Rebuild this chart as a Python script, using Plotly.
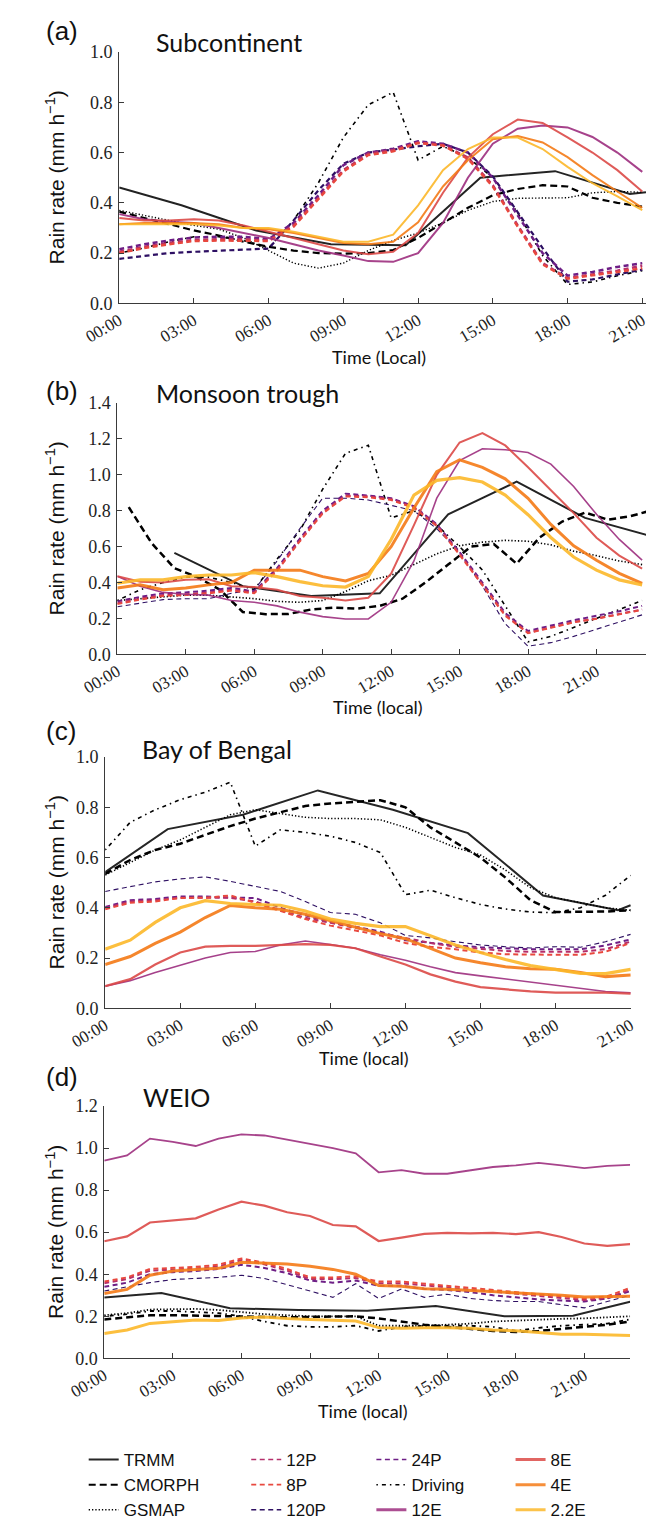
import plotly.graph_objects as go

W, H = 652, 1528

# ---------------- data ----------------
hours_a = list(range(22))
hours_b = list(range(24))
hours_c = list(range(22))
hours_d = list(range(24))
tick_hours = [0, 3, 6, 9, 12, 15, 18, 21]
tick_labels = ["00:00", "03:00", "06:00", "09:00", "12:00", "15:00", "18:00", "21:00"]

# (a) Subcontinent
a_trmm_x = [0, 2.5, 5.5, 8.5, 11.5, 14.5, 17.5, 20.5, 21.15]
a_trmm = [0.461, 0.39, 0.29, 0.235, 0.231, 0.50, 0.526, 0.435, 0.442]
a_cmorph = [0.365, 0.34, 0.315, 0.29, 0.27, 0.245, 0.225, 0.21, 0.2, 0.198, 0.2, 0.212,
            0.26, 0.32, 0.38, 0.43, 0.455, 0.47, 0.465, 0.42, 0.4, 0.385]
a_gsmap = [0.37, 0.35, 0.33, 0.31, 0.295, 0.26, 0.21, 0.16, 0.14, 0.16, 0.21, 0.25,
           0.28, 0.32, 0.37, 0.405, 0.418, 0.418, 0.42, 0.44, 0.445, 0.442]
a_driving = [0.2, 0.22, 0.245, 0.265, 0.265, 0.25, 0.22, 0.33, 0.48, 0.66, 0.79, 0.84,
             0.57, 0.625, 0.58, 0.5, 0.36, 0.19, 0.075, 0.085, 0.11, 0.13]
a_12p = [0.205, 0.225, 0.24, 0.252, 0.255, 0.255, 0.25, 0.31, 0.42, 0.53, 0.595, 0.61,
         0.64, 0.63, 0.58, 0.47, 0.31, 0.16, 0.1, 0.115, 0.13, 0.15]
a_8p = [0.2, 0.22, 0.235, 0.248, 0.25, 0.25, 0.248, 0.305, 0.415, 0.525, 0.59, 0.605,
        0.638, 0.628, 0.575, 0.465, 0.305, 0.155, 0.098, 0.11, 0.125, 0.14]
a_120p = [0.177, 0.19, 0.2, 0.205, 0.21, 0.213, 0.218, 0.33, 0.45, 0.555, 0.6, 0.612,
          0.625, 0.635, 0.6, 0.505, 0.36, 0.22, 0.086, 0.095, 0.115, 0.134]
a_24p = [0.215, 0.235, 0.25, 0.262, 0.265, 0.265, 0.255, 0.32, 0.43, 0.55, 0.6, 0.615,
         0.645, 0.635, 0.6, 0.5, 0.35, 0.2, 0.11, 0.125, 0.145, 0.16]
a_12e = [0.355, 0.335, 0.325, 0.32, 0.3, 0.28, 0.26, 0.235, 0.21, 0.19, 0.168, 0.165,
         0.2, 0.32, 0.5, 0.635, 0.695, 0.708, 0.7, 0.662, 0.6, 0.523]
a_8e = [0.34, 0.33, 0.33, 0.335, 0.33, 0.31, 0.285, 0.26, 0.235, 0.21, 0.195, 0.205,
        0.28, 0.44, 0.58, 0.673, 0.731, 0.718, 0.66, 0.6, 0.53, 0.445]
a_4e = [0.315, 0.32, 0.32, 0.32, 0.315, 0.3, 0.295, 0.28, 0.26, 0.24, 0.235, 0.245,
        0.322, 0.465, 0.569, 0.653, 0.666, 0.64, 0.582, 0.51, 0.445, 0.38]
a_22e = [0.315, 0.315, 0.315, 0.315, 0.31, 0.3, 0.3, 0.285, 0.265, 0.245, 0.245, 0.273,
         0.39, 0.53, 0.614, 0.66, 0.66, 0.614, 0.543, 0.478, 0.426, 0.371]

# (b) Monsoon trough
b_trmm_x = [2.5, 5.5, 8.5, 11.5, 14.5, 17.5, 20.5, 23.2]
b_trmm = [0.565, 0.38, 0.325, 0.34, 0.78, 0.962, 0.76, 0.665]
b_cmorph_x = [0.5, 1.5, 2.5, 3.5, 4.5, 5.5, 6.5, 7.5, 8.5, 9.5, 10.5, 11.5, 12.5, 13.5,
              14.5, 15.5, 16.5, 17.5, 18.5, 19.5, 20.5, 21.5, 22.5, 23.2]
b_cmorph = [0.82, 0.62, 0.48, 0.43, 0.36, 0.236, 0.224, 0.225, 0.25, 0.26, 0.255, 0.27,
            0.31, 0.4, 0.5, 0.6, 0.615, 0.505, 0.65, 0.74, 0.79, 0.75, 0.77, 0.795]
b_gsmap = [0.3, 0.31, 0.32, 0.33, 0.33, 0.32, 0.31, 0.295, 0.29, 0.3, 0.35, 0.41,
           0.44, 0.5, 0.56, 0.605, 0.625, 0.635, 0.63, 0.61, 0.575, 0.55, 0.52, 0.5]
b_driving = [0.3, 0.36, 0.4, 0.43, 0.43, 0.4, 0.36, 0.53, 0.69, 0.92, 1.12, 1.165,
             0.76, 0.8, 0.72, 0.6, 0.47, 0.27, 0.07, 0.1, 0.15, 0.2, 0.25, 0.3]
b_12p = [0.285, 0.31, 0.33, 0.335, 0.345, 0.36, 0.345, 0.47, 0.635, 0.79, 0.885, 0.88,
         0.865, 0.82, 0.72, 0.56, 0.39, 0.22, 0.12, 0.15, 0.18, 0.2, 0.225, 0.25]
b_8p = [0.28, 0.305, 0.325, 0.33, 0.34, 0.355, 0.34, 0.465, 0.63, 0.785, 0.88, 0.875,
        0.86, 0.815, 0.715, 0.555, 0.385, 0.215, 0.118, 0.148, 0.178, 0.198, 0.222, 0.248]
b_120p = [0.265, 0.285, 0.305, 0.31, 0.31, 0.34, 0.36, 0.52, 0.7, 0.87, 0.87, 0.86,
          0.83, 0.8, 0.7, 0.57, 0.38, 0.17, 0.045, 0.065, 0.1, 0.14, 0.18, 0.22]
b_24p = [0.295, 0.32, 0.34, 0.345, 0.355, 0.37, 0.35, 0.48, 0.645, 0.8, 0.895, 0.885,
         0.87, 0.825, 0.725, 0.57, 0.4, 0.23, 0.13, 0.16, 0.19, 0.215, 0.24, 0.27]
b_12e = [0.435, 0.38, 0.345, 0.335, 0.33, 0.3, 0.29, 0.27, 0.235, 0.21, 0.197, 0.197,
         0.29, 0.52, 0.87, 1.08, 1.145, 1.14, 1.125, 1.06, 0.935, 0.78, 0.64, 0.525]
b_8e = [0.435, 0.405, 0.4, 0.415, 0.418, 0.38, 0.375, 0.36, 0.325, 0.315, 0.3, 0.315,
        0.45, 0.72, 1.0, 1.18, 1.233, 1.164, 1.042, 0.915, 0.787, 0.65, 0.55, 0.478]
b_4e = [0.37, 0.387, 0.36, 0.37, 0.387, 0.4, 0.469, 0.469, 0.469, 0.433, 0.409, 0.451,
        0.6, 0.815, 1.018, 1.084, 1.042, 0.978, 0.869, 0.724, 0.605, 0.524, 0.451, 0.396]
b_22e = [0.396, 0.415, 0.415, 0.433, 0.442, 0.442, 0.455, 0.433, 0.405, 0.382, 0.375, 0.433,
         0.64, 0.887, 0.969, 0.984, 0.96, 0.887, 0.778, 0.651, 0.542, 0.469, 0.415, 0.387]

# (c) Bay of Bengal
c_trmm_x = [0, 2.5, 5.5, 8.5, 11.5, 14.5, 17.5, 20.5, 21.0]
c_trmm = [0.542, 0.713, 0.77, 0.867, 0.79, 0.697, 0.449, 0.39, 0.41]
c_cmorph = [0.535, 0.59, 0.63, 0.655, 0.69, 0.725, 0.755, 0.78, 0.805, 0.815, 0.82, 0.828,
            0.8, 0.72, 0.66, 0.6, 0.52, 0.43, 0.383, 0.385, 0.385, 0.39]
c_gsmap = [0.53, 0.58, 0.63, 0.67, 0.72, 0.77, 0.79, 0.775, 0.76, 0.755, 0.755, 0.75,
           0.72, 0.68, 0.64, 0.61, 0.55, 0.48, 0.44, 0.42, 0.4, 0.39]
c_driving = [0.63, 0.74, 0.79, 0.83, 0.86, 0.9, 0.645, 0.71, 0.7, 0.685, 0.66, 0.62,
             0.452, 0.47, 0.44, 0.413, 0.395, 0.383, 0.38, 0.4, 0.45, 0.529]
c_12p = [0.398, 0.425, 0.43, 0.44, 0.44, 0.44, 0.425, 0.39, 0.36, 0.34, 0.32, 0.3,
         0.28, 0.26, 0.245, 0.235, 0.228, 0.225, 0.225, 0.225, 0.235, 0.265]
c_8p = [0.394, 0.42, 0.425, 0.439, 0.44, 0.449, 0.42, 0.387, 0.355, 0.329, 0.31, 0.29,
        0.26, 0.245, 0.235, 0.222, 0.215, 0.213, 0.213, 0.213, 0.225, 0.26]
c_120p = [0.465, 0.485, 0.503, 0.515, 0.523, 0.505, 0.484, 0.465, 0.425, 0.381, 0.374, 0.34,
          0.29, 0.28, 0.265, 0.252, 0.245, 0.24, 0.245, 0.243, 0.265, 0.294]
c_24p = [0.403, 0.43, 0.435, 0.445, 0.445, 0.44, 0.439, 0.4, 0.37, 0.342, 0.325, 0.305,
         0.271, 0.26, 0.25, 0.243, 0.238, 0.235, 0.235, 0.235, 0.25, 0.274]
c_12e = [0.088, 0.11, 0.142, 0.17, 0.2, 0.222, 0.226, 0.252, 0.268, 0.254, 0.239, 0.213,
         0.191, 0.165, 0.142, 0.129, 0.116, 0.103, 0.093, 0.08, 0.067, 0.062]
c_8e = [0.088, 0.116, 0.174, 0.222, 0.245, 0.248, 0.248, 0.252, 0.255, 0.252, 0.239, 0.206,
        0.174, 0.135, 0.106, 0.084, 0.075, 0.067, 0.062, 0.062, 0.062, 0.058]
c_4e = [0.174, 0.206, 0.258, 0.303, 0.361, 0.409, 0.4, 0.394, 0.374, 0.348, 0.323, 0.297,
        0.277, 0.239, 0.2, 0.181, 0.165, 0.157, 0.155, 0.142, 0.126, 0.132]
c_22e = [0.235, 0.271, 0.342, 0.4, 0.428, 0.417, 0.413, 0.41, 0.387, 0.355, 0.338, 0.325,
         0.325, 0.29, 0.252, 0.222, 0.194, 0.17, 0.155, 0.139, 0.138, 0.155]

# (d) WEIO
d_trmm_x = [0, 2.5, 5.5, 8.5, 11.5, 14.5, 17.5, 20.5, 23.0]
d_trmm = [0.289, 0.311, 0.238, 0.23, 0.226, 0.249, 0.2, 0.203, 0.269]
d_cmorph = [0.185, 0.195, 0.205, 0.205, 0.203, 0.2, 0.198, 0.195, 0.195, 0.197, 0.2, 0.2,
            0.19, 0.175, 0.16, 0.15, 0.14, 0.13, 0.125, 0.13, 0.14, 0.15, 0.16, 0.175]
d_gsmap = [0.205, 0.215, 0.232, 0.235, 0.235, 0.23, 0.22, 0.21, 0.205, 0.2, 0.2, 0.2,
           0.155, 0.155, 0.155, 0.16, 0.165, 0.175, 0.18, 0.185, 0.188, 0.19, 0.195, 0.2]
d_driving = [0.2, 0.21, 0.225, 0.225, 0.22, 0.215, 0.2, 0.175, 0.155, 0.15, 0.15, 0.155,
             0.13, 0.15, 0.155, 0.155, 0.155, 0.15, 0.13, 0.145, 0.155, 0.16, 0.165, 0.185]
d_12p = [0.357, 0.377, 0.417, 0.422, 0.427, 0.437, 0.467, 0.447, 0.417, 0.377, 0.377, 0.382,
         0.357, 0.357, 0.347, 0.337, 0.327, 0.317, 0.307, 0.297, 0.287, 0.277, 0.287, 0.327]
d_8p = [0.365, 0.385, 0.425, 0.43, 0.435, 0.445, 0.475, 0.455, 0.425, 0.385, 0.385, 0.39,
        0.365, 0.365, 0.355, 0.345, 0.335, 0.325, 0.315, 0.305, 0.295, 0.285, 0.295, 0.335]
d_120p = [0.32, 0.34, 0.36, 0.375, 0.38, 0.385, 0.395, 0.38, 0.35, 0.32, 0.29, 0.355,
          0.285, 0.33, 0.29, 0.305, 0.285, 0.275, 0.27, 0.27, 0.255, 0.24, 0.27, 0.3]
d_24p = [0.34, 0.36, 0.4, 0.41, 0.415, 0.425, 0.445, 0.43, 0.405, 0.37, 0.36, 0.37,
         0.345, 0.345, 0.33, 0.325, 0.315, 0.3, 0.29, 0.28, 0.275, 0.27, 0.285, 0.32]
d_12e = [0.94, 0.965, 1.045, 1.03, 1.01, 1.045, 1.065, 1.06, 1.04, 1.02, 1.0, 0.975,
         0.885, 0.895, 0.878, 0.878, 0.895, 0.91, 0.918, 0.93, 0.918, 0.905, 0.915, 0.92]
d_8e = [0.557, 0.58, 0.646, 0.656, 0.666, 0.708, 0.745, 0.726, 0.695, 0.677, 0.634, 0.628,
        0.558, 0.574, 0.592, 0.597, 0.594, 0.597, 0.591, 0.6, 0.577, 0.546, 0.535, 0.543]
d_4e = [0.308, 0.328, 0.395, 0.415, 0.423, 0.428, 0.457, 0.454, 0.449, 0.438, 0.423, 0.4,
        0.346, 0.343, 0.331, 0.328, 0.323, 0.315, 0.312, 0.308, 0.3, 0.292, 0.292, 0.295]
d_22e = [0.118, 0.135, 0.166, 0.174, 0.182, 0.18, 0.192, 0.197, 0.189, 0.185, 0.18, 0.177,
         0.146, 0.143, 0.145, 0.146, 0.143, 0.135, 0.131, 0.123, 0.115, 0.114, 0.111, 0.108]

# ---------------- styles ----------------
colors = {
    "TRMM": "#262626", "CMORPH": "#000000", "GSMAP": "#000000", "Driving": "#000000",
    "12P": "#b5306b", "8P": "#e8493f", "120P": "#2f1163", "24P": "#6e1f86",
    "12E": "#9e2f7f", "8E": "#dc4a47", "4E": "#f57b17", "2.2E": "#fcb82a",
}
dashes = {
    "TRMM": "solid", "CMORPH": "7px,4px", "GSMAP": "1.3px,2px", "Driving": "1.5px,4px,4px,4px",
    "12P": "5px,3.5px", "8P": "5px,3.5px", "120P": "5px,3.5px", "24P": "5px,3.5px",
    "12E": "solid", "8E": "solid", "4E": "solid", "2.2E": "solid",
}
widths = {
    "a": {"TRMM": 2, "CMORPH": 2.2, "GSMAP": 1.4, "Driving": 1.6, "12P": 2.5, "8P": 2.5,
          "120P": 2.2, "24P": 2.5, "12E": 2, "8E": 2, "4E": 2, "2.2E": 2},
    "b": {"TRMM": 2, "CMORPH": 2.5, "GSMAP": 1.6, "Driving": 1.6, "12P": 2, "8P": 2,
          "120P": 1.1, "24P": 2, "12E": 1.6, "8E": 2, "4E": 3, "2.2E": 3.2},
    "c": {"TRMM": 2, "CMORPH": 2.5, "GSMAP": 1.5, "Driving": 1.6, "12P": 2, "8P": 2,
          "120P": 1.1, "24P": 2, "12E": 1.6, "8E": 2.2, "4E": 3, "2.2E": 3.2},
    "d": {"TRMM": 2, "CMORPH": 2.5, "GSMAP": 1.8, "Driving": 1.8, "12P": 2, "8P": 2,
          "120P": 1.1, "24P": 2, "12E": 1.8, "8E": 2.2, "4E": 3, "2.2E": 3},
}

panels = {
    "a": dict(hours=hours_a, trmm_x=a_trmm_x, cmorph_x=hours_a,
              data={"TRMM": a_trmm, "CMORPH": a_cmorph, "GSMAP": a_gsmap, "Driving": a_driving,
                    "12P": a_12p, "8P": a_8p, "120P": a_120p, "24P": a_24p,
                    "12E": a_12e, "8E": a_8e, "4E": a_4e, "2.2E": a_22e}),
    "b": dict(hours=hours_b, trmm_x=b_trmm_x, cmorph_x=b_cmorph_x,
              data={"TRMM": b_trmm, "CMORPH": b_cmorph, "GSMAP": b_gsmap, "Driving": b_driving,
                    "12P": b_12p, "8P": b_8p, "120P": b_120p, "24P": b_24p,
                    "12E": b_12e, "8E": b_8e, "4E": b_4e, "2.2E": b_22e}),
    "c": dict(hours=hours_c, trmm_x=c_trmm_x, cmorph_x=hours_c,
              data={"TRMM": c_trmm, "CMORPH": c_cmorph, "GSMAP": c_gsmap, "Driving": c_driving,
                    "12P": c_12p, "8P": c_8p, "120P": c_120p, "24P": c_24p,
                    "12E": c_12e, "8E": c_8e, "4E": c_4e, "2.2E": c_22e}),
    "d": dict(hours=hours_d, trmm_x=d_trmm_x, cmorph_x=hours_d,
              data={"TRMM": d_trmm, "CMORPH": d_cmorph, "GSMAP": d_gsmap, "Driving": d_driving,
                    "12P": d_12p, "8P": d_8p, "120P": d_120p, "24P": d_24p,
                    "12E": d_12e, "8E": d_8e, "4E": d_4e, "2.2E": d_22e}),
}

# layout geometry in pixels: (x0, x1, ytop, ybottom, xmax, ymax)
geom = {
    "a": (88, 652, 43, 300, 21.15, 1.0),
    "b": (86, 652, 402, 659, 23.17, 1.4),
    "c": (73, 636, 764, 1021, 21.02, 1.0),
    "d": (72, 635, 1121, 1379, 23.0, 1.2),
}
titles = {"a": "Subcontinent", "b": "Monsoon trough", "c": "Bay of Bengal", "d": "WEIO"}
xlabels = {"a": "Time (Local)", "b": "Time (local)", "c": "Time (local)", "d": "Time (local)"}
letter_pos = {"a": 21, "b": 390, "c": 737, "d": 1091}
title_pos = {"a": (125, 33), "b": (125, 392), "c": (110, 756), "d": (111, 1112)}
xtitle_pos = {"a": 355, "b": 713, "c": 1072, "d": 1433}

draw_order = ["TRMM", "CMORPH", "GSMAP", "Driving", "120P", "24P", "12P", "8P", "12E", "8E", "4E", "2.2E"]

fig = go.Figure()
annotations = []
layout_axes = {}


def px_x(p):
    return p / W


def px_y(p):
    return 1 - p / H


for i, key in enumerate(["a", "b", "c", "d"]):
    x0, x1, yt, yb, xmax, ymax = geom[key]
    xa = "x" if i == 0 else f"x{i+1}"
    ya = "y" if i == 0 else f"y{i+1}"
    pdata = panels[key]
    for name in draw_order:
        if name == "TRMM":
            xs = pdata["trmm_x"]
        elif name == "CMORPH":
            xs = pdata["cmorph_x"]
        else:
            xs = pdata["hours"]
        fig.add_trace(go.Scatter(
            x=xs, y=pdata["data"][name], mode="lines", xaxis=xa, yaxis=ya,
            line=dict(color=colors[name], width=widths[key][name], dash=dashes[name]),
            opacity=0.9 if name in ("12E", "8E", "4E", "2.2E") else 1.0,
            showlegend=False, hoverinfo="skip"))
    axis_common = dict(showline=True, linecolor="#3a3a3a", linewidth=1, showgrid=False,
                       zeroline=False, ticks="inside", ticklen=5, tickcolor="#3a3a3a",
                       mirror=False)
    layout_axes["xaxis" if i == 0 else f"xaxis{i+1}"] = dict(
        axis_common, domain=[px_x(x0), px_x(x1)], range=[0, xmax], anchor=ya,
        tickvals=tick_hours, ticktext=tick_labels, tickangle=-30, ticklabelstandoff=0,
        tickfont=dict(family="Liberation Serif", size=17, color="#222"))
    layout_axes["yaxis" if i == 0 else f"yaxis{i+1}"] = dict(
        axis_common, domain=[px_y(yb), px_y(yt)], range=[0, ymax], anchor=xa,
        dtick=0.2, tickformat=".1f", ticklabelstandoff=2,
        tickfont=dict(family="Liberation Serif", size=18, color="#222"))
    annotations.append(dict(text=f"({key})", x=px_x(8), y=px_y(letter_pos[key]), xref="paper", yref="paper",
                            xanchor="left", yanchor="middle", showarrow=False,
                            font=dict(family="Liberation Sans", size=26, color="#111")))
    tx, ty = title_pos[key]
    annotations.append(dict(text=titles[key], x=px_x(tx), y=px_y(ty), xref="paper", yref="paper",
                            xanchor="left", yanchor="middle", showarrow=False,
                            font=dict(family="Lato", size=25, color="#111")))
    annotations.append(dict(text="Rain rate (mm h<sup>−1</sup>)", x=px_x(19), y=px_y((yt + yb) / 2),
                            xref="paper", yref="paper", xanchor="center", yanchor="middle",
                            textangle=-90, showarrow=False,
                            font=dict(family="Liberation Sans", size=21, color="#111")))
    annotations.append(dict(text=xlabels[key], x=px_x((x0 + x1) / 2 - 4), y=px_y(xtitle_pos[key]),
                            xref="paper", yref="paper", xanchor="center", yanchor="middle",
                            showarrow=False, font=dict(family="Lato", size=18, color="#111")))

# legend-only entries, one legend per column
legend_cols = [["TRMM", "CMORPH", "GSMAP"], ["12P", "8P", "120P"],
               ["24P", "Driving", "12E"], ["8E", "4E", "2.2E"]]
legend_text_x = [92, 266, 400, 549]
legend_ids = ["legend", "legend2", "legend3", "legend4"]
leg_width = {"TRMM": 2, "CMORPH": 2, "GSMAP": 1.3, "Driving": 1.5, "12P": 1.5, "8P": 1.8,
             "120P": 1.3, "24P": 1.5, "12E": 3, "8E": 3, "4E": 3, "2.2E": 3}
legend_layouts = {}
for col, lid, tx in zip(legend_cols, legend_ids, legend_text_x):
    for name in col:
        fig.add_trace(go.Scatter(
            x=[None], y=[None], mode="lines", name=name, legend=lid,
            line=dict(color=colors[name], width=leg_width[name], dash=dashes[name]),
            opacity=0.85 if name in ("12E", "8E", "4E", "2.2E") else 1.0,
            showlegend=True))
    legend_layouts[lid] = dict(
        x=px_x(tx - 42), y=px_y(1465), xanchor="left", yanchor="top", orientation="v",
        bgcolor="rgba(0,0,0,0)", borderwidth=0, tracegroupgap=0, itemwidth=30,
        font=dict(family="Liberation Sans", size=17, color="#111"))

fig.update_layout(
    width=W, height=H, margin=dict(l=0, r=0, t=0, b=0),
    paper_bgcolor="white", plot_bgcolor="white",
    annotations=annotations, **layout_axes, **legend_layouts)

fig.write_html(
    "out.html",
    config={"displayModeBar": False},
    post_script="document.body.style.margin='0px';document.body.style.overflow='hidden';"
                "document.documentElement.style.overflow='hidden';")
